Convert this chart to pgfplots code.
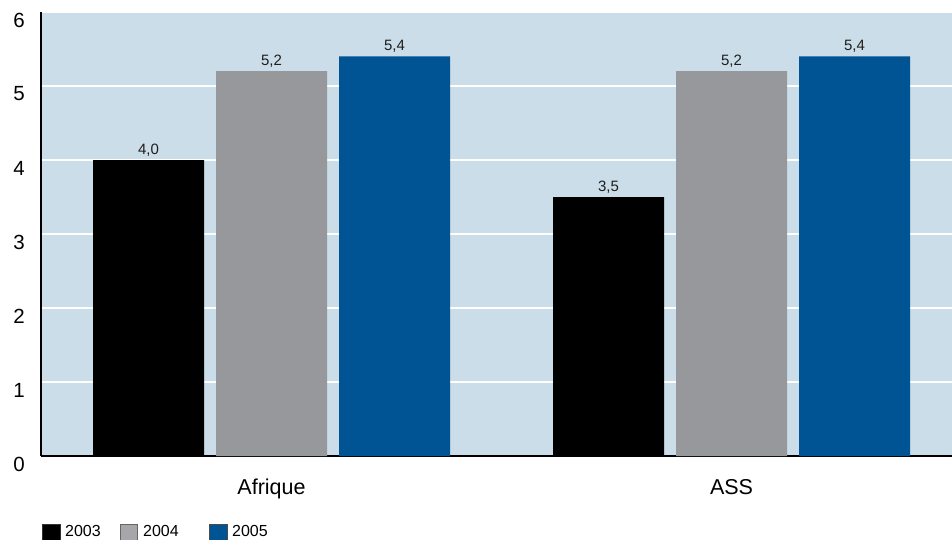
\documentclass[border=0pt]{standalone}
\usepackage{pgfplots}
\pgfplotsset{compat=1.18}
\usepackage{fontspec}
\setmainfont{Liberation Sans}

\definecolor{bgblue}{RGB}{203,221,232}
\definecolor{bargray}{RGB}{151,152,156}
\definecolor{barblue}{RGB}{0,84,148}
\definecolor{labeltext}{RGB}{30,30,30}

\begin{document}
\begin{tikzpicture}
\begin{axis}[
    at={(0,0)}, anchor=south west,
    scale only axis,
    width=911pt, height=444pt,
    xmin=-0.5011, xmax=1.4793,
    ymin=0, ymax=6,
    ytick={0,1,2,3,4,5,6},
    xtick={0,1},
    xticklabels={Afrique,ASS},
    major tick length=0pt,
    axis x line*=bottom,
    axis y line*=left,
    axis line style={black, line width=2pt},
    axis background/.style={fill=bgblue},
    ymajorgrids,
    grid style={white, line width=2pt},
    /pgf/number format/assume math mode=true,
    yticklabel style={font=\fontsize{20.5}{24}\selectfont, anchor=east, inner sep=0pt, xshift=-16pt, yshift=-8pt},
    xticklabel style={font=\fontsize{21.5}{25}\selectfont, anchor=base, inner sep=0pt, yshift=-38pt},
    ybar, bar width=0.2413,
    nodes near coords,
    nodes near coords style={font=\fontsize{15}{18}\selectfont, text=labeltext, inner sep=0pt, anchor=base, yshift=5.5pt,
        /pgf/number format/.cd, fixed, fixed zerofill, precision=1, use comma, assume math mode=true},
    clip=false,
]
\addplot[fill=black, draw=none, bar shift=-0.2674] coordinates {(0,4.0) (1,3.5)};
\addplot[fill=bargray, draw=none, bar shift=0] coordinates {(0,5.2) (1,5.2)};
\addplot[fill=barblue, draw=none, bar shift=0.2674] coordinates {(0,5.4) (1,5.4)};
\end{axis}

% legend keys
\begin{scope}[font=\fontsize{16}{19}\selectfont]
  \filldraw[fill=black, draw=black!80] (1pt,-68pt) rectangle (19pt,-84pt);
  \node[anchor=west, inner sep=0pt] at (24pt,-75pt) {2003};
  \filldraw[fill=bargray!85, draw=black!60] (79pt,-68pt) rectangle (96pt,-84pt);
  \node[anchor=west, inner sep=0pt] at (102pt,-75pt) {2004};
  \filldraw[fill=barblue, draw=black!70] (168pt,-68pt) rectangle (186pt,-84pt);
  \node[anchor=west, inner sep=0pt] at (191pt,-75pt) {2005};
\end{scope}

\pgfresetboundingbox
\path[use as bounding box] (-41pt,-83pt) rectangle (911pt,456pt);
\end{tikzpicture}
\end{document}
